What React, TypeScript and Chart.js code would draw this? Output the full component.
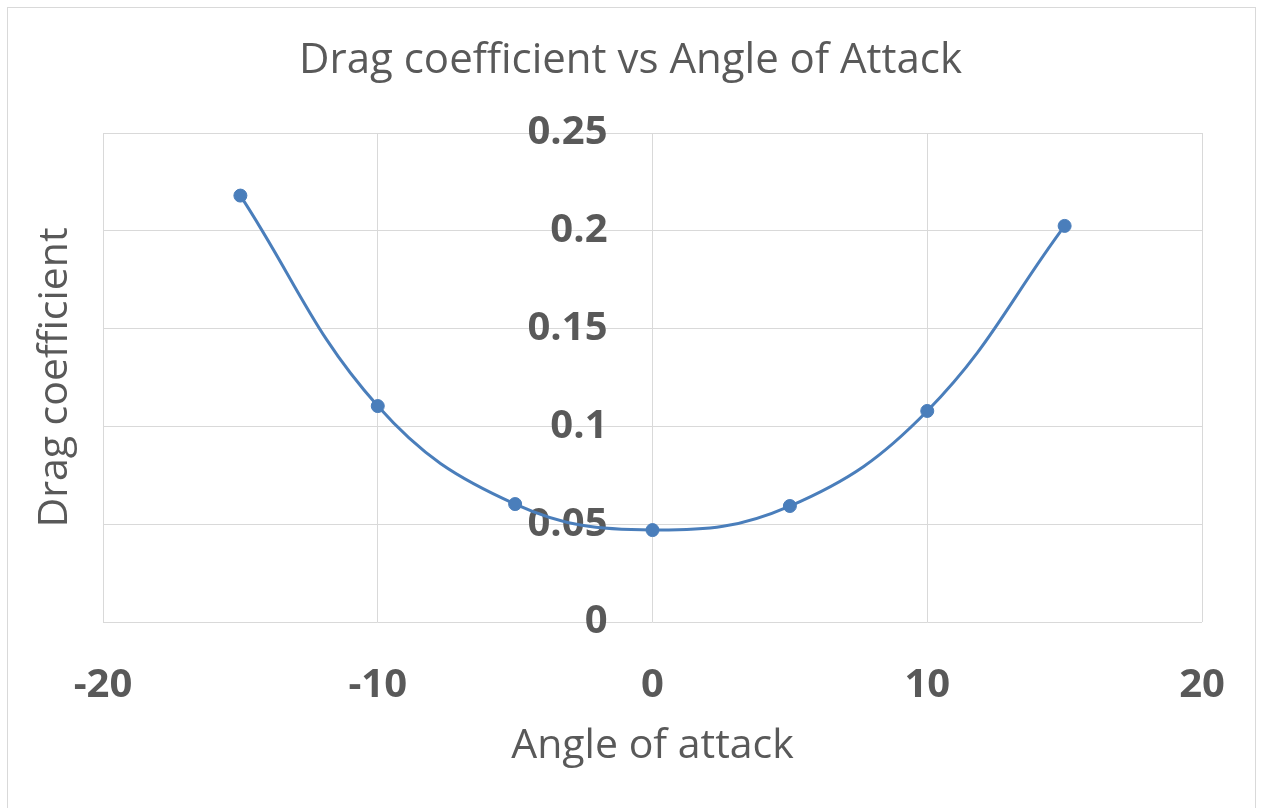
import React, { useEffect, useRef } from 'react';
import { Chart, registerables } from 'chart.js';

Chart.register(...registerables);

// ---- data ----
const ANGLES = [-15, -10, -5, 0, 5, 10, 15];
const DRAG = [0.218, 0.1104, 0.0603, 0.047, 0.0593, 0.1079, 0.2025];
const X_TICKS = [-20, -10, 0, 10, 20];
const X_TICK_LABELS = ['-20', '-10', '0', '10', '20'];
const Y_TICKS = [0, 0.05, 0.1, 0.15, 0.2, 0.25];
const Y_TICK_LABELS = ['0', '0.05', '0.1', '0.15', '0.2', '0.25'];
const TITLE = 'Drag coefficient vs Angle of Attack';
const X_TITLE = 'Angle of attack';
const Y_TITLE = 'Drag coefficient';

// ---- styles ----
const FONT = "'Open Sans', 'Noto Sans', sans-serif";
const GRAY = '#595959';
const GRID = '#d9d9d9';
const BLUE = '#4a7ebb';
const W = 1261;
const H = 808;

const borderPlugin = {
  id: 'outerBorder',
  beforeDraw(chart: any) {
    const ctx = chart.ctx;
    ctx.save();
    ctx.fillStyle = '#ffffff';
    ctx.fillRect(0, 0, chart.width, chart.height);
    ctx.strokeStyle = GRID;
    ctx.lineWidth = 1;
    ctx.strokeRect(7.5, 7.5, 1248, 1000);
    ctx.restore();
  },
};

export default function App() {
  const ref = useRef<HTMLCanvasElement | null>(null);

  useEffect(() => {
    document.body.style.margin = '0';
    const canvas = ref.current;
    if (!canvas) return;
    const chart = new Chart(canvas, {
      type: 'scatter',
      data: {
        datasets: [
          {
            data: ANGLES.map((x, i) => ({ x, y: DRAG[i] })),
            showLine: true,
            borderColor: BLUE,
            backgroundColor: BLUE,
            borderWidth: 3,
            pointRadius: 6.5,
            pointBorderWidth: 1,
            pointBorderColor: BLUE,
            pointBackgroundColor: BLUE,
            tension: 0.4,
            xAxisID: 'x',
            yAxisID: 'y',
          },
        ],
      },
      options: {
        responsive: false,
        animation: false,
        layout: { padding: 0 },
        plugins: {
          legend: { display: false },
          tooltip: { enabled: false },
          title: {
            display: true,
            text: TITLE,
            color: GRAY,
            font: { family: FONT, size: 42, weight: 'normal' },
            padding: { top: 36, bottom: 46.6 },
          },
        },
        scales: {
          x: {
            type: 'linear',
            position: 'bottom',
            min: -20,
            max: 20,
            afterBuildTicks: (s: any) => {
              s.ticks = X_TICKS.map((v) => ({ value: v }));
            },
            afterFit: (s: any) => {
              s.height = 186;
            },
            grid: {
              color: GRID,
              lineWidth: 1,
              drawTicks: true,
              tickLength: 40,
              tickColor: 'rgba(0,0,0,0)',
            },
            border: { display: false },
            ticks: {
              color: GRAY,
              font: { family: FONT, size: 40, weight: 'bold' },
              padding: 0,
              maxRotation: 0,
              autoSkip: false,
              callback: (_v: any, i: number) => X_TICK_LABELS[i],
            },
            title: {
              display: true,
              text: X_TITLE,
              color: GRAY,
              font: { family: FONT, size: 41, weight: 'normal' },
              padding: { top: 0, bottom: 37 },
            },
          },
          y: {
            type: 'linear',
            position: 'center',
            min: 0,
            max: 0.25,
            afterBuildTicks: (s: any) => {
              s.ticks = Y_TICKS.map((v) => ({ value: v }));
            },
            grid: { color: GRID, lineWidth: 1, drawTicks: false },
            border: { display: false },
            ticks: {
              color: GRAY,
              font: { family: FONT, size: 40, weight: 'bold' },
              padding: 45,
              autoSkip: false,
              callback: (_v: any, i: number) => Y_TICK_LABELS[i],
            },
          },
          yTitle: {
            type: 'linear',
            axis: 'y',
            position: 'left',
            min: 0,
            max: 0.25,
            ticks: { display: false },
            grid: { display: false, drawTicks: false },
            border: { display: false },
            afterFit: (s: any) => {
              s.width = 103;
            },
            title: {
              display: true,
              text: Y_TITLE,
              color: GRAY,
              font: { family: FONT, size: 41, weight: 'normal' },
              padding: { top: 31, bottom: 0 },
            },
          },
          yRight: {
            type: 'linear',
            axis: 'y',
            position: 'right',
            min: 0,
            max: 0.25,
            ticks: { display: false },
            grid: { display: false, drawTicks: false },
            border: { display: false },
            afterFit: (s: any) => {
              s.width = 59;
            },
          },
        },
      },
      plugins: [borderPlugin],
    } as any);
    return () => chart.destroy();
  }, []);

  return (
    <div style={{ width: W, height: H, overflow: 'hidden', background: '#fff' }}>
      <canvas ref={ref} width={W} height={H} style={{ display: 'block', width: W, height: H }} />
    </div>
  );
}
